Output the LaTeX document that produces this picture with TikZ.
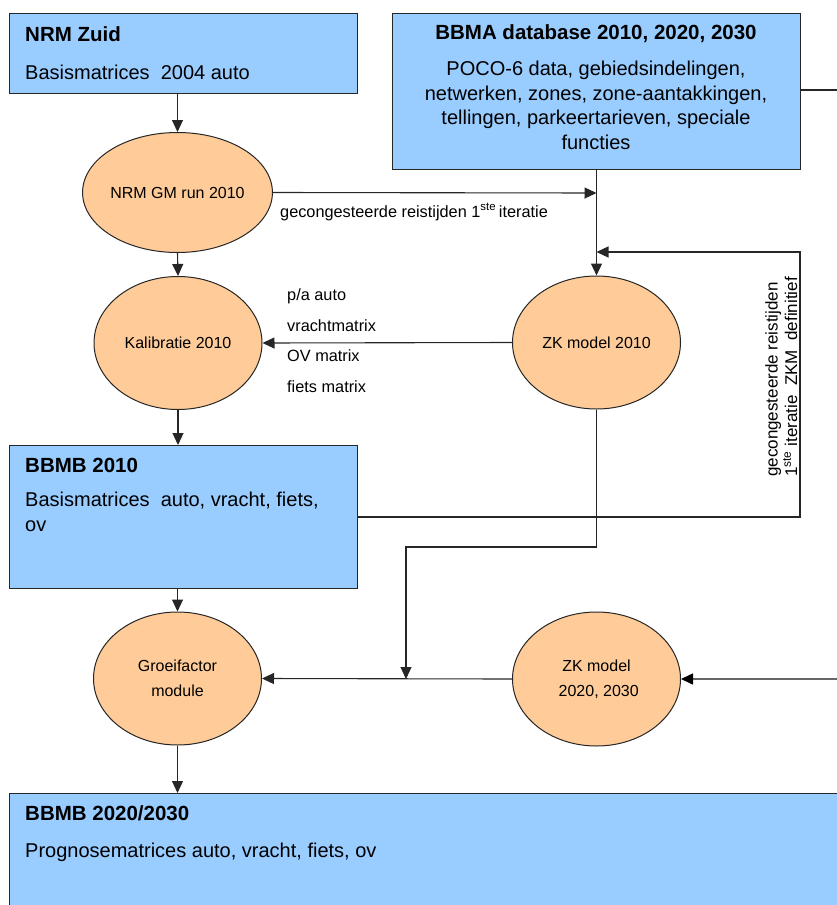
\documentclass[tikz,border=0pt]{standalone}
\usepackage{fontspec}
\setmainfont{Liberation Sans}
\usetikzlibrary{arrows.meta,shapes.geometric}
\definecolor{boxblue}{HTML}{99CCFF}
\definecolor{peach}{HTML}{FFCC99}
\definecolor{edge}{HTML}{262626}
\tikzset{
  box/.style={draw=edge,fill=boxblue,line width=1.2pt,anchor=north west,inner sep=0pt},
  proc/.style={draw=edge,fill=peach,ellipse,line width=1pt,inner sep=0pt,minimum width=168pt,align=center,font=\fontsize{16}{25}\selectfont},
  ttl/.style={font=\fontsize{20.5}{24}\selectfont\bfseries,inner sep=0pt},
  body/.style={font=\fontsize{20}{24.5}\selectfont,inner sep=0pt},
  small/.style={font=\fontsize{16.3}{19}\selectfont,inner sep=0pt},
  conn/.style={draw=edge,line width=1.1pt},
  arr/.style={conn,-{Triangle[length=12pt,width=11pt]}},
}
\begin{document}
\begin{tikzpicture}[x=1pt,y=-1pt]
\useasboundingbox (0,0) rectangle (837,905);
% boxes
\node[box,minimum width=348pt,minimum height=80pt] (nrm) at (9,13) {};
\node[ttl,anchor=west] (nrmt) at (25,34) {NRM Zuid};
\node[body,anchor=west] (nrmb) at (25,72) {Basismatrices\ \ 2004 auto};

\node[box,minimum width=408pt,minimum height=156pt] (bbma) at (392,13) {};
\node[ttl] (bbmat) at (596,34) {BBMA database 2010, 2020, 2030};
\node[body,align=center,anchor=north] (bbmab) at (596,61) {POCO-6 data,\ gebiedsindelingen,\\netwerken, zones, zone-aantakkingen,\\tellingen, parkeertarieven,\ speciale\\functies};

\node[box,minimum width=348pt,minimum height=143pt] (bb1) at (9,445) {};
\node[ttl,anchor=west] (bb1t) at (25,465) {BBMB 2010};
\node[body,align=left,anchor=north west] (bb1b) at (25,492) {Basismatrices\ \ auto, vracht,\ fiets,\\ov};

\node[box,minimum width=840pt,minimum height=120pt] (bb2) at (9,793) {};
\node[ttl,anchor=west] (bb2t) at (25,813) {BBMB 2020/2030};
\node[body,anchor=west] (bb2b) at (25,852) {Prognosematrices auto, vracht,\ fiets, ov};

% ellipses
\node[proc,minimum height=120pt] (gm) at (177.5,192.5) {NRM GM run 2010};
\node[proc,minimum height=133pt] (kal) at (178,343) {Kalibratie 2010};
\node[proc,minimum height=133pt] (zk1) at (596.5,342.5) {ZK model 2010};
\node[proc,minimum height=133pt] (gro) at (177.5,678.5) {Groeifactor\\module};
\node[proc,minimum height=134pt] (zk2) at (596.5,679) {ZK model\\\ 2020, 2030};

% coordinates
\coordinate (j1) at (596.5,193);
\coordinate (j2) at (596.5,252);
\coordinate (r1) at (800,252);
\coordinate (r2) at (800,517);
\coordinate (d1) at (596.5,547);
\coordinate (d2) at (406,547);
\coordinate (d3) at (406,679);
\coordinate (e1) at (837,90);
\coordinate (e2) at (837,679);

% connectors
\draw[arr] (nrm.south -| gm.north) -- (gm.north);
\draw[arr] (gm.east) -- (j1);
\draw[arr] (bbma.south -| zk1.north) -- (zk1.north);
\draw[arr] (bb1.east |- r2) -- (r2) -- (r1) -- (j2);
\draw[arr] (zk1.west) -- (kal.east);
\draw[arr] (gm.south) -- (kal.north);
\draw[arr] (kal.south) -- (bb1.north -| kal.south);
\draw[arr] (zk1.south) -- (d1) -- (d2) -- (d3);
\draw[arr] (bb1.south -| gro.north) -- (gro.north);
\draw[arr] (zk2.west) -- (gro.east);
\draw[draw=gray!80!black,line width=1.6pt,-{Triangle[length=12pt,width=11pt,color=black]}] (e2) -- (zk2.east);
\draw[conn] (bbma.east |- e1) -- (e1);

\draw[arr] (gro.south) -- (bb2.north -| gro.south);

% labels
\node[small,anchor=west] (lit) at (280,212) {gecongesteerde reistijden 1\textsuperscript{ste}\,iteratie};
\node[small,anchor=west] (l1) at (287,296) {p/a auto};
\node[small,anchor=west] (l2) at (287,326) {vrachtmatrix};
\node[small,anchor=west] (l3) at (287,356) {OV matrix};
\node[small,anchor=west] (l4) at (287,387) {fiets matrix};
\node[small,rotate=90,anchor=north west,align=left,font=\fontsize{17}{19.5}\selectfont] (lrot) at (765,477) {gecongesteerde reistijden\\1\textsuperscript{ste} iteratie\ \ ZKM\ \ definitief};
\end{tikzpicture}
\end{document}
